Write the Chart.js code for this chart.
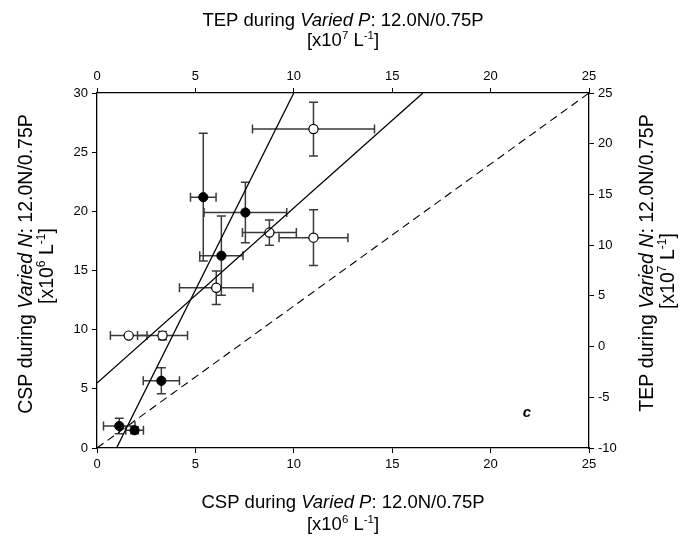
<!DOCTYPE html>
<html>
<head>
<meta charset="utf-8">
<script src="https://cdn.jsdelivr.net/npm/chart.js@4/dist/chart.umd.min.js"></script>
<style>
  html, body { margin: 0; padding: 0; background: #fff; }
  #wrap { width: 683px; height: 541px; position: relative; }
</style>
</head>
<body>
<div id="wrap"><canvas id="c"></canvas></div>
<script>
// ---- Data ----
// Filled circles: CSP (bottom axis = Varied P, left axis = Varied N), x10^6 L^-1
const cspX    = [5.40, 7.54, 6.32, 3.27, 1.13, 1.91];
const cspY    = [21.2, 19.9, 16.25, 5.68, 1.86, 1.50];
const cspXErr = [0.65, 2.10, 1.10, 0.92, 0.80, 0.45];
const cspYErr = [5.40, 2.55, 3.35, 1.10, 0.65, 0.30];

// Open circles: TEP (top axis = Varied P, right axis = Varied N), x10^7 L^-1
const tepX    = [11.0, 8.76, 11.0, 6.06, 1.61, 3.33];
const tepY    = [21.45, 11.24, 10.74, 5.80, 1.08, 1.08];
const tepXErr = [3.10, 1.37, 1.75, 1.87, 0.93, 1.27];
const tepYErr = [2.65, 1.25, 2.75, 1.65, 0.00, 0.40];

// Regression lines [slope, intercept]
const cspFit = [3.33, -3.30];   // on bottom/left axes
const tepFit = [1.727, -3.60];  // on top/right axes
const refLine = [1.2, 0];       // dashed, on bottom/left axes

// Axis ranges / ticks
const bottomRange = [0, 25];
const leftRange   = [0, 30];
const topRange    = [0, 25];
const rightRange  = [-10, 25];
const xStep = 5, yStep = 5;

// ---- Build datasets ----
const cspPts = cspX.map((x, i) => ({x, y: cspY[i]}));
const tepPts = tepX.map((x, i) => ({x, y: tepY[i]}));

function fitSegment(fit, xr, yr) {
  const [m, b] = fit;
  const xa = (yr[0] - b) / m, xb = (yr[1] - b) / m;
  const lo = Math.max(xr[0], Math.min(xa, xb));
  const hi = Math.min(xr[1], Math.max(xa, xb));
  return [{x: lo, y: m * lo + b}, {x: hi, y: m * hi + b}];
}

const errorBarPlugin = {
  id: 'errbars',
  beforeDatasetsDraw(chart) {
    const ctx = chart.ctx;
    const sets = [
      {pts: cspPts, xe: cspXErr, ye: cspYErr, xs: chart.scales.x, ys: chart.scales.y},
      {pts: tepPts, xe: tepXErr, ye: tepYErr, xs: chart.scales.x2, ys: chart.scales.y2}
    ];
    ctx.save();
    ctx.strokeStyle = '#3a3a3a';
    ctx.lineWidth = 1.5;
    const cap = 4.5;
    sets.forEach(s => {
      s.pts.forEach((p, i) => {
        const px = s.xs.getPixelForValue(p.x), py = s.ys.getPixelForValue(p.y);
        const xl = s.xs.getPixelForValue(p.x - s.xe[i]), xr = s.xs.getPixelForValue(p.x + s.xe[i]);
        const yt = s.ys.getPixelForValue(p.y + s.ye[i]), yb = s.ys.getPixelForValue(p.y - s.ye[i]);
        ctx.beginPath();
        if (s.xe[i] > 0) {
          ctx.moveTo(xl, py); ctx.lineTo(xr, py);
          ctx.moveTo(xl, py - cap); ctx.lineTo(xl, py + cap);
          ctx.moveTo(xr, py - cap); ctx.lineTo(xr, py + cap);
        }
        if (s.ye[i] > 0) {
          ctx.moveTo(px, yt); ctx.lineTo(px, yb);
          ctx.moveTo(px - cap, yt); ctx.lineTo(px + cap, yt);
          ctx.moveTo(px - cap, yb); ctx.lineTo(px + cap, yb);
        }
        ctx.stroke();
      });
    });
    ctx.restore();
  }
};

const FONT = '"Liberation Sans", Arial, sans-serif';
function drawRich(ctx, parts, cx, baseY, size) {
  ctx.save();
  ctx.translate(cx, 0);
  ctx.fillStyle = '#000';
  ctx.textBaseline = 'alphabetic';
  ctx.textAlign = 'left';
  const fontOf = p => (p.i ? 'italic ' : '') + (p.b ? 'bold ' : '') + (p.s ? size * 0.62 : size) + 'px ' + FONT;
  let total = 0;
  parts.forEach(p => { ctx.font = fontOf(p); p.w = ctx.measureText(p.t).width; total += p.w; });
  let x = -total / 2;
  parts.forEach(p => {
    ctx.font = fontOf(p);
    ctx.fillText(p.t, x, p.s ? baseY - size * 0.40 : baseY);
    x += p.w;
  });
  ctx.restore();
}
function drawRichRot(ctx, parts, cy, baseX, size) {
  ctx.save();
  ctx.translate(0, cy);
  ctx.rotate(-Math.PI / 2);
  drawRich(ctx, parts, 0, baseX, size);
  ctx.restore();
}

const titlesPlugin = {
  id: 'titles',
  afterDraw(chart) {
    const ctx = chart.ctx;
    const a = chart.chartArea;
    const midX = (a.left + a.right) / 2;
    const S = 18.5, SR = 19.5;
    const unit = (p) => [{t: '[x10'}, {t: p, s: true}, {t: ' L'}, {t: '-1', s: true}, {t: ']'}];
    // top
    drawRich(ctx, [{t: 'TEP during '}, {t: 'Varied P', i: true}, {t: ': 12.0N/0.75P'}], midX, 26, S);
    drawRich(ctx, unit('7'), midX, 46, S);
    // bottom
    drawRich(ctx, [{t: 'CSP during '}, {t: 'Varied P', i: true}, {t: ': 12.0N/0.75P'}], midX, 508, S);
    drawRich(ctx, unit('6'), midX, 530, S);
    // left
    drawRichRot(ctx, [{t: 'CSP during '}, {t: 'Varied N', i: true}, {t: ': 12.0N/0.75P'}], 264, 32, SR);
    drawRichRot(ctx, unit('6'), 266, 53, SR);
    // right
    drawRichRot(ctx, [{t: 'TEP during '}, {t: 'Varied N', i: true}, {t: ': 12.0N/0.75P'}], 263, 653, SR);
    drawRichRot(ctx, unit('7'), 271, 674, SR);
    // panel letter
    ctx.save();
    ctx.font = 'italic bold 15px ' + FONT;
    ctx.fillStyle = '#000';
    ctx.textAlign = 'center';
    ctx.textBaseline = 'middle';
    ctx.fillText('c', chart.scales.x.getPixelForValue(21.85), chart.scales.y.getPixelForValue(3.0));
    ctx.restore();
  }
};

function axisCfg(position, range, step, size) {
  return {
    type: 'linear',
    position: position,
    min: range[0], max: range[1],
    afterFit(s) { if (position === 'left' || position === 'right') s.width = size; else s.height = size; },
    ticks: { stepSize: step, color: '#000', font: {family: FONT, size: 13}, padding: 4, maxRotation: 0, autoSkip: false },
    grid: { display: true, drawOnChartArea: false, drawTicks: true, tickLength: 5, color: '#000', lineWidth: 1 },
    border: { display: true, color: '#000', width: 1.3 },
    title: { display: false }
  };
}

new Chart(document.getElementById('c'), {
  type: 'scatter',
  data: {
    datasets: [
      { label: 'dashed', data: fitSegment(refLine, bottomRange, leftRange), xAxisID: 'x', yAxisID: 'y',
        showLine: true, borderColor: '#000', borderWidth: 1.1, borderDash: [8, 5], pointRadius: 0, fill: false },
      { label: 'cspFit', data: fitSegment(cspFit, bottomRange, leftRange), xAxisID: 'x', yAxisID: 'y',
        showLine: true, borderColor: '#000', borderWidth: 1.3, pointRadius: 0, fill: false },
      { label: 'tepFit', data: fitSegment(tepFit, topRange, rightRange), xAxisID: 'x2', yAxisID: 'y2',
        showLine: true, borderColor: '#000', borderWidth: 1.3, pointRadius: 0, fill: false },
      { label: 'CSP', data: cspPts, xAxisID: 'x', yAxisID: 'y',
        pointRadius: 4.6, pointBackgroundColor: '#000', pointBorderColor: '#000', pointBorderWidth: 1 },
      { label: 'TEP', data: tepPts, xAxisID: 'x2', yAxisID: 'y2',
        pointRadius: 4.6, pointBackgroundColor: '#fff', pointBorderColor: '#000', pointBorderWidth: 1.2 }
    ]
  },
  options: {
    responsive: true,
    maintainAspectRatio: false,
    animation: false,
    layout: { padding: 0 },
    plugins: { legend: { display: false }, tooltip: { enabled: false } },
    scales: {
      x:  axisCfg('bottom', bottomRange, xStep, 93),
      x2: axisCfg('top', topRange, xStep, 93),
      y:  axisCfg('left', leftRange, yStep, 97),
      y2: axisCfg('right', rightRange, yStep, 94)
    }
  },
  plugins: [errorBarPlugin, titlesPlugin]
});
</script>
</body>
</html>
